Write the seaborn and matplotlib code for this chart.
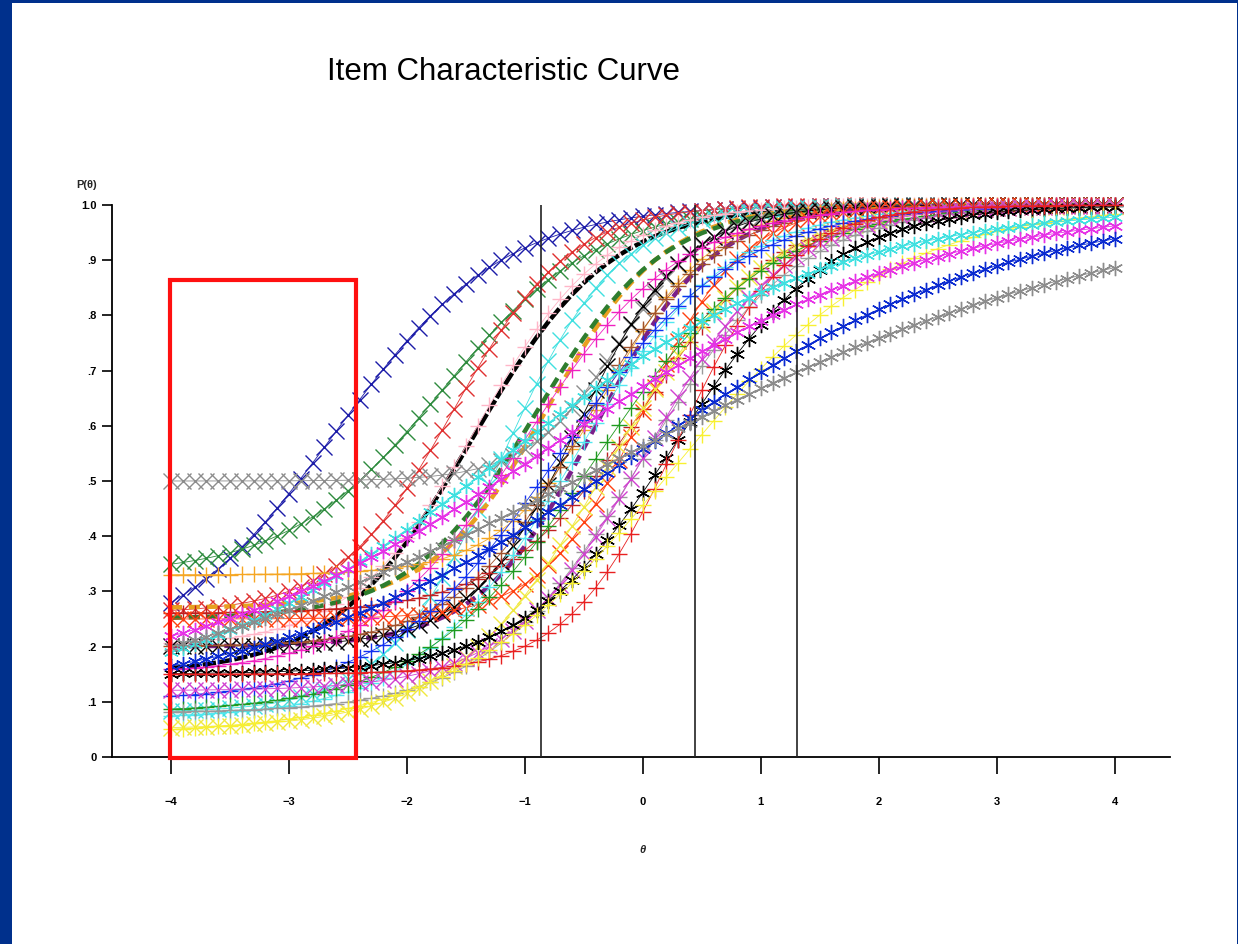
import numpy as np
import pandas as pd
import matplotlib
matplotlib.use("Agg")
import matplotlib.pyplot as plt
from matplotlib.patches import Rectangle
import seaborn as sns

# item parameters (a = discrimination, b = difficulty, c = guessing)
item_a = [0.27, 0.38, 0.38, 0.42, 0.63, 1.25, 0.90, 1.00, 0.90, 0.80, 0.80, 0.90, 0.90,
          0.90, 1.40, 1.00, 1.10, 1.30, 1.20, 1.30, 1.50, 1.10, 1.20, 1.10, 1.20, 1.00,
          1.20, 0.90, 0.83]
item_b = [-0.35, -0.05, -0.80, -1.20, 0.25, 0.30, 0.30, 0.05, 0.00, -0.40, -0.70, -1.00, -0.30,
          -0.60, 0.00, 0.00, -0.50, -0.55, -0.40, -0.30, -0.20, -0.90, -0.80, -1.40, -1.20, -1.45,
          -1.60, -1.70, -2.60]
item_c = [0.05, 0.10, 0.12, 0.08, 0.04, 0.15, 0.15, 0.12, 0.08, 0.08, 0.10, 0.15, 0.05,
          0.07, 0.25, 0.26, 0.20, 0.20, 0.20, 0.33, 0.50, 0.25, 0.27, 0.20, 0.08, 0.15,
          0.26, 0.33, 0.18]

theta = np.round(np.arange(-4, 4.01, 0.1), 1)
cut_points = [-0.865, 0.44, 1.31]
y_ticks = [0, .1, .2, .3, .4, .5, .6, .7, .8, .9, 1.0]
y_tick_labels = ["0", ".1", ".2", ".3", ".4", ".5", ".6", ".7", ".8", ".9", "1.0"]
x_ticks = [-4, -3, -2, -1, 0, 1, 2, 3, 4]
x_tick_labels = ["\u22124", "\u22123", "\u22122", "\u22121", "0", "1", "2", "3", "4"]

# styles per curve
colors = ["#8c8c8c", "#0a2ad0", "#e632e6", "#3ee0e0", "#f8f030", "#e82020", "#000000", "#d040d0",
          "#9a9a9a", "#1f9a1f", "#1030f0", "#f020c0", "#f0e840", "#50e8f0", "#ff4010", "#c02020",
          "#a0522d", "#000000", "#7a1f8a", "#f5a623", "#8c8c8c", "#2e7d2e", "#e8a020", "#ffb6c8",
          "#40e0e0", "#000000", "#e03030", "#2e8b3e", "#1c1ca8"]
ast = (6, 2, 0)
markers = [ast, ast, ast, ast, "+", "+", ast, "x", "+", "+", "+", "+", "x", "+", "x", "+",
           "+", "x", None, "+", "x", None, None, "+", "x", None, "x", "x", "x"]

rows = []
for i, (a, b, c) in enumerate(zip(item_a, item_b, item_c)):
    p = c + (1 - c) / (1 + np.exp(-1.7 * a * (theta - b)))
    rows.append(pd.DataFrame({"theta": theta, "p": p, "item": i}))
df = pd.concat(rows, ignore_index=True)

sns.set_style("white")
plt.rcParams["font.family"] = ["Liberation Sans", "DejaVu Sans"]

fig = plt.figure(figsize=(12.38, 9.44), dpi=100, facecolor="#00308c")
fig.add_artist(Rectangle((12 / 1238, 0), 1225 / 1238, 1 - 3 / 944, transform=fig.transFigure,
                         facecolor="white", edgecolor="none", zorder=0))
ax = fig.add_axes([112 / 1238, 1 - 757 / 944, (1170 - 112) / 1238, 552 / 944])
ax.set_facecolor("none")

n = len(item_a)
for i in range(n):
    sub = df[df["item"] == i]
    m = markers[i]
    z = 2 + (n - i) * 0.01
    if m is None:
        ls = (0, (3, 0.6)) if colors[i] == "#000000" else (0, (2.5, 1.5))
        sns.lineplot(data=sub, x="theta", y="p", ax=ax, color=colors[i], lw=3.2,
                     linestyle=ls, zorder=z)
    else:
        sns.lineplot(data=sub, x="theta", y="p", ax=ax, color=colors[i], lw=0.6,
                     marker=m, markersize=11, markeredgewidth=1.0,
                     markeredgecolor=colors[i], zorder=z)
for ln in ax.lines:
    ln.set_clip_on(False)

ax.vlines(cut_points, 0, 1.0, color="#222222", lw=1.2, zorder=4)
ax.add_patch(Rectangle((-4.01, -0.002), 1.58, 0.866, fill=False, edgecolor="#ff1010",
                       lw=3, zorder=6, clip_on=False))

ax.set_xlim(-4.5, 4.47)
ax.set_ylim(0, 1.0)
ax.set_xticks(x_ticks)
ax.set_xticklabels(x_tick_labels, fontsize=8, fontweight="bold")
ax.set_yticks(y_ticks)
ax.set_yticklabels(y_tick_labels, fontsize=8, fontweight="bold")
ax.tick_params(axis="x", direction="out", length=12, width=1.2, pad=17, bottom=True, colors="black")
ax.tick_params(axis="y", direction="out", length=7, width=1.2, pad=4, left=True, colors="black")
ax.set_xlabel("")
ax.set_ylabel("")
sns.despine(ax=ax)
for s in ["left", "bottom"]:
    ax.spines[s].set_color("black")
    ax.spines[s].set_linewidth(1.3)

fig.text(327 / 1238, 1 - 72 / 944, "Item Characteristic Curve", fontsize=22.5, ha="left",
         va="center", color="black")
fig.text(643 / 1238, 1 - 850 / 944, "\u03b8", fontsize=8, fontstyle="italic", fontweight="bold",
         ha="center", va="center")
fig.text(87 / 1238, 1 - 185 / 944, "P(\u03b8)", fontsize=8, fontweight="bold", ha="center", va="center")

fig.savefig("out.png", dpi=100, facecolor=fig.get_facecolor())
